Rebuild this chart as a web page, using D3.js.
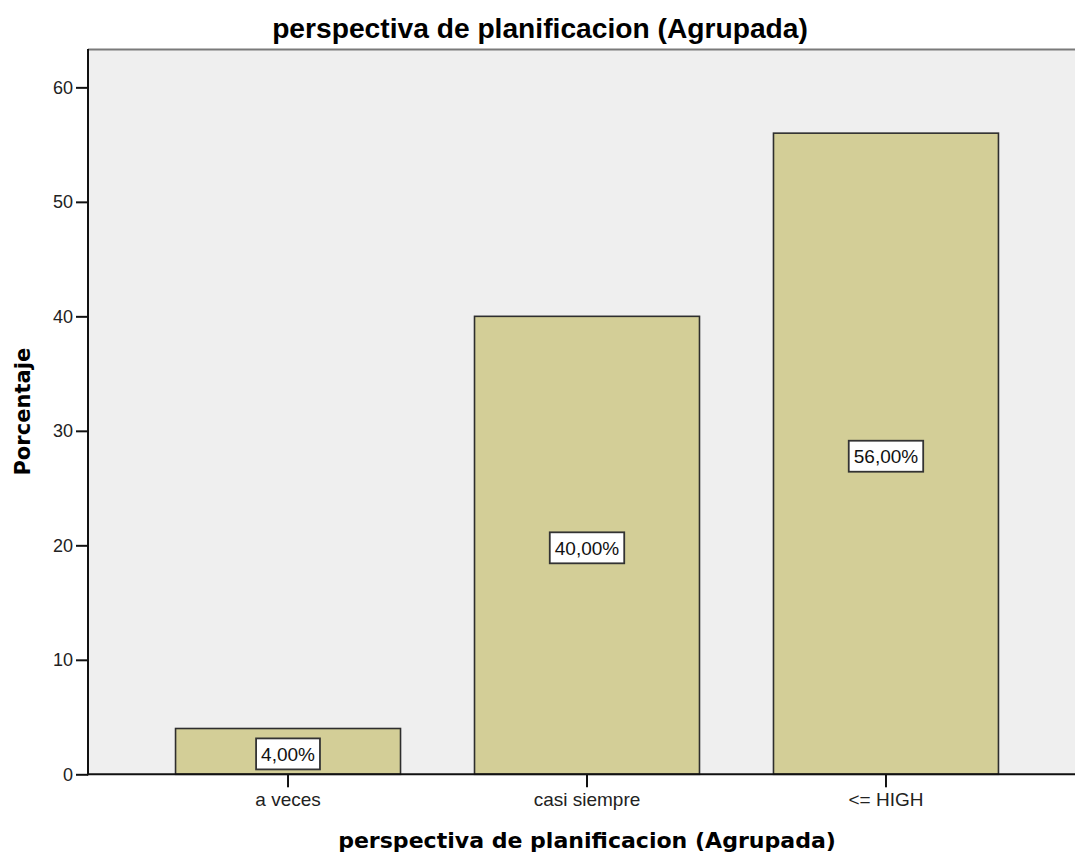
<!DOCTYPE html>
<html>
<head>
<meta charset="utf-8">
<script src="https://cdn.jsdelivr.net/npm/d3@7"></script>
<style>
  html, body { margin: 0; padding: 0; background: #ffffff; }
  svg { display: block; }
</style>
</head>
<body>
<svg id="chart" width="1075" height="854"></svg>
<script>
// ---- data ----
const categories = ["a veces", "casi siempre", "<= HIGH"];
const percentages = [4, 40, 56];
const valueLabels = ["4,00%", "40,00%", "56,00%"];
const yTicks = [0, 10, 20, 30, 40, 50, 60];
const chartTitle = "perspectiva de planificacion (Agrupada)";
const xTitle = "perspectiva de planificacion (Agrupada)";
const yTitle = "Porcentaje";

// ---- layout ----
const W = 1075, H = 854;
const plot = { left: 88, right: 1086, top: 49, bottom: 774.3 };
const yMax = 63.35;

const svg = d3.select("#chart");

const x = d3.scaleBand()
  .domain(categories)
  .range([plot.left, plot.right])
  .paddingInner(0.2475)
  .paddingOuter(0.2928);

const y = d3.scaleLinear()
  .domain([0, yMax])
  .range([plot.bottom, plot.top]);

// fit a text element to a target width by adjusting font size
function fitWidth(sel, target) {
  const node = sel.node();
  const fs = parseFloat(sel.attr("font-size"));
  const w = node.getComputedTextLength();
  if (w > 0) sel.attr("font-size", (fs * target / w).toFixed(2));
}

// background
svg.append("rect")
  .attr("x", plot.left).attr("y", plot.top)
  .attr("width", plot.right - plot.left).attr("height", plot.bottom - plot.top)
  .attr("fill", "#efefef");

// top border
svg.append("line")
  .attr("x1", plot.left).attr("x2", plot.right)
  .attr("y1", plot.top + 0.5).attr("y2", plot.top + 0.5)
  .attr("stroke", "#7a7a7a").attr("stroke-width", 2);

// bars
svg.append("g").selectAll("rect")
  .data(percentages)
  .join("rect")
  .attr("x", (d, i) => x(categories[i]))
  .attr("y", d => y(d))
  .attr("width", x.bandwidth())
  .attr("height", d => y(0) - y(d))
  .attr("fill", "#d3ce97")
  .attr("stroke", "#2e2e2e")
  .attr("stroke-width", 1.6);

// y axis
const yAxis = d3.axisLeft(y).tickValues(yTicks).tickSize(12).tickPadding(3).tickFormat(d3.format("d"));
const gy = svg.append("g").attr("transform", `translate(${plot.left},0)`).call(yAxis);
gy.select(".domain").remove();
gy.selectAll(".tick line").attr("stroke", "#111").attr("stroke-width", 2);
gy.selectAll(".tick text")
  .attr("font-family", "'Liberation Sans', Arial, sans-serif")
  .attr("font-size", 18).attr("fill", "#222");
svg.append("line")
  .attr("x1", plot.left).attr("x2", plot.left)
  .attr("y1", plot.top).attr("y2", plot.bottom + 1)
  .attr("stroke", "#111").attr("stroke-width", 2);

// x axis
const xAxis = d3.axisBottom(x).tickSize(13).tickPadding(5);
const gx = svg.append("g").attr("transform", `translate(0,${plot.bottom})`).call(xAxis);
gx.select(".domain").remove();
gx.selectAll(".tick line").attr("stroke", "#111").attr("stroke-width", 2);
gx.selectAll(".tick text")
  .attr("font-family", "'Liberation Sans', Arial, sans-serif")
  .attr("font-size", 19).attr("fill", "#222");
svg.append("line")
  .attr("x1", plot.left - 1).attr("x2", plot.right)
  .attr("y1", plot.bottom).attr("y2", plot.bottom)
  .attr("stroke", "#111").attr("stroke-width", 2);

// value labels
const lab = svg.append("g").selectAll("g")
  .data(percentages)
  .join("g")
  .attr("transform", (d, i) => `translate(${x(categories[i]) + x.bandwidth() / 2},${y(d / 2) + 2.5})`);
const labText = lab.append("text")
  .attr("text-anchor", "middle")
  .attr("dy", "0.36em")
  .attr("font-family", "'Liberation Sans', Arial, sans-serif")
  .attr("font-size", 19)
  .attr("fill", "#111")
  .text((d, i) => valueLabels[i]);
labText.each(function () {
  const w = this.getComputedTextLength();
  d3.select(this.parentNode).insert("rect", "text")
    .attr("x", -w / 2 - 5).attr("y", -15.5)
    .attr("width", w + 10).attr("height", 31)
    .attr("fill", "#ffffff")
    .attr("stroke", "#333")
    .attr("stroke-width", 1.8);
});

// titles
const t1 = svg.append("text")
  .attr("x", 540).attr("y", 38)
  .attr("text-anchor", "middle")
  .attr("font-family", "'Liberation Sans', Arial, sans-serif")
  .attr("font-weight", "bold")
  .attr("font-size", 22)
  .attr("fill", "#000")
  .text(chartTitle);
fitWidth(t1, 536);

const t2 = svg.append("text")
  .attr("x", (plot.left + plot.right) / 2).attr("y", 848)
  .attr("text-anchor", "middle")
  .attr("font-family", "'DejaVu Sans', sans-serif")
  .attr("font-weight", "bold")
  .attr("font-size", 20)
  .attr("fill", "#000")
  .text(xTitle);
fitWidth(t2, 498);

const t3 = svg.append("text")
  .attr("transform", `translate(30,${(plot.top + plot.bottom) / 2}) rotate(-90)`)
  .attr("text-anchor", "middle")
  .attr("font-family", "'DejaVu Sans', sans-serif")
  .attr("font-weight", "bold")
  .attr("font-size", 20)
  .attr("fill", "#000")
  .text(yTitle);
fitWidth(t3, 128);
</script>
</body>
</html>
